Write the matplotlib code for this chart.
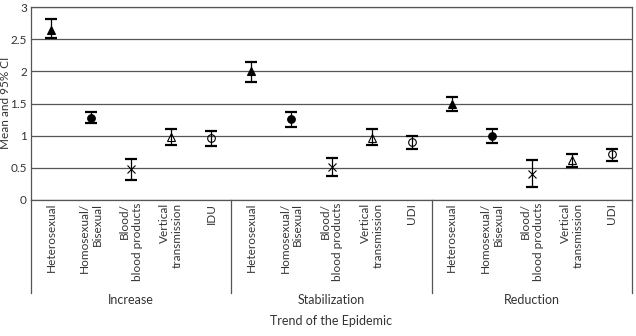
import matplotlib
matplotlib.use("Agg")
import matplotlib.pyplot as plt
from matplotlib.lines import Line2D

plt.rcParams['font.family'] = ['Lato', 'DejaVu Sans']

groups = ["Increase", "Stabilization", "Reduction"]
categories = [
    ["Heterosexual", "Homosexual/\nBisexual", "Blood/\nblood products", "Vertical\ntransmission", "IDU"],
    ["Heterosexual", "Homosexual/\nBisexual", "Blood/\nblood products", "Vertical\ntransmission", "UDI"],
    ["Heterosexual", "Homosexual/\nBisexual", "Blood/\nblood products", "Vertical\ntransmission", "UDI"],
]
means = [
    [2.65, 1.28, 0.48, 0.98, 0.96],
    [2.00, 1.26, 0.52, 0.96, 0.90],
    [1.49, 1.00, 0.41, 0.62, 0.71],
]
upper = [
    [2.81, 1.37, 0.64, 1.10, 1.07],
    [2.15, 1.37, 0.65, 1.10, 1.00],
    [1.60, 1.10, 0.62, 0.71, 0.80],
]
lower = [
    [2.52, 1.19, 0.31, 0.86, 0.84],
    [1.84, 1.14, 0.38, 0.85, 0.80],
    [1.38, 0.88, 0.20, 0.52, 0.60],
]
markers = ["^", "o", "x", "^", "o"]
filled = [True, True, False, False, False]

fig = plt.figure(figsize=(6.36, 3.36), dpi=100)
ax = fig.add_axes([31 / 636, 1 - 200 / 336, 601 / 636, 193 / 336])

labels = []
pos = 0
for g in range(3):
    for k in range(5):
        m = means[g][k]
        err = [[m - lower[g][k]], [upper[g][k] - m]]
        ax.errorbar([pos], [m], yerr=err, fmt="none", ecolor="black",
                    elinewidth=0.9, capsize=4, capthick=1.6, zorder=3)
        if markers[k] == "x":
            ax.plot([pos], [m], marker="x", color="black", markersize=5.5,
                    markeredgewidth=0.8, zorder=4)
        else:
            ax.plot([pos], [m], marker=markers[k], markersize=5.5,
                    markerfacecolor="black" if filled[k] else "none",
                    markeredgecolor="black", markeredgewidth=0.8, zorder=4)
        labels.append(categories[g][k])
        pos += 1

ax.set_xlim(-0.5, 14.5)
ax.set_ylim(0, 3)
ax.set_yticks([0, 0.5, 1, 1.5, 2, 2.5, 3])
ax.set_yticklabels(["0", "0.5", "1", "1.5", "2", "2.5", "3"], fontsize=8.5, color="#333333")
ax.yaxis.grid(True, color="#555555", linewidth=0.9)
ax.set_axisbelow(True)
ax.tick_params(axis="y", length=0, pad=3)
for s in ax.spines.values():
    s.set_color("#555555")
    s.set_linewidth(0.9)

ax.set_xticks(range(15))
ax.set_xticklabels(labels, rotation=90, fontsize=8.5, va="top", ha="center",
                   multialignment="right", color="#333333")
ax.tick_params(axis="x", length=0, pad=2)

# group separators below the axis
for xs in [-0.5, 4.5, 9.5, 14.5]:
    ax.add_line(Line2D([xs, xs], [0, -1.45], color="#555555", linewidth=0.9,
                       clip_on=False, transform=ax.transData))

for g, name in enumerate(groups):
    ax.text(g * 5 + 2, -1.555, name, ha="center", va="center", fontsize=9,
            color="#333333")

fig.text(6 / 636, 1 - 103 / 336, "Mean and 95% CI", rotation=90,
         ha="center", va="center", fontsize=8.5, color="#333333")
fig.text(0.5 * (31 + 632) / 636, 1 - 321 / 336, "Trend of the Epidemic",
         ha="center", va="center", fontsize=9, color="#333333")

fig.savefig("out.png", dpi=100)
